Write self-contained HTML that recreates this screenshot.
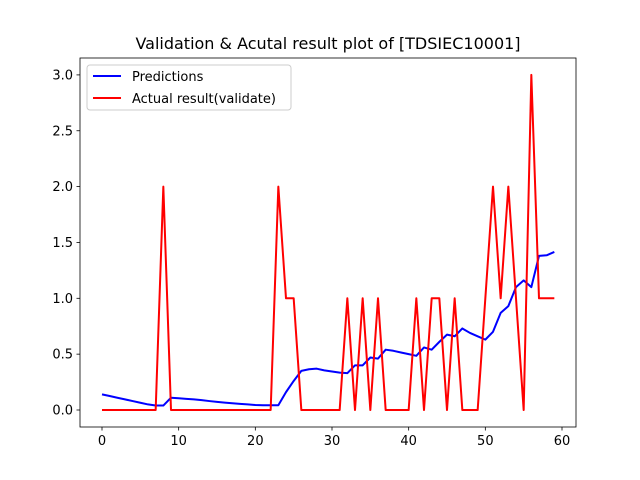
<!DOCTYPE html>
<html><head><meta charset="utf-8"><style>body{margin:0;background:#fff}svg{display:block;font-family:"DejaVu Sans","Liberation Sans",sans-serif}</style></head>
<body>
<svg id="c" width="640" height="480"></svg>
<script>
const xTicks=[0,10,20,30,40,50,60];
const yTicks=[0,0.5,1.0,1.5,2.0,2.5,3.0];
const yTickLabels=["0.0","0.5","1.0","1.5","2.0","2.5","3.0"];
const predictions=[0.14,0.125,0.11,0.095,0.08,0.065,0.05,0.04,0.04,0.11,0.105,0.1,0.095,0.088,0.08,0.073,0.066,0.06,0.055,0.05,0.045,0.043,0.043,0.043,0.16,0.26,0.35,0.365,0.37,0.355,0.345,0.335,0.33,0.4,0.4,0.47,0.46,0.54,0.53,0.515,0.5,0.485,0.56,0.54,0.61,0.675,0.66,0.73,0.69,0.66,0.63,0.7,0.87,0.93,1.1,1.16,1.1,1.38,1.385,1.415];
const actual=[0,0,0,0,0,0,0,0,2,0,0,0,0,0,0,0,0,0,0,0,0,0,0,2,1,1,0,0,0,0,0,0,1,0,1,0,1,0,0,0,0,1,0,1,1,0,1,0,0,0,1,2,1,2,1,0,3,1,1,1];
const NS="http://www.w3.org/2000/svg";
const svg=document.getElementById('c');
const X=v=>102+v*(460/60);
const Y=v=>410-v*111.7;
function mk(t,a,p){const e=document.createElementNS(NS,t);for(const k in a)e.setAttribute(k,a[k]);(p||svg).appendChild(e);return e;}
const t=mk('text',{x:328,y:49,'text-anchor':'middle','font-size':16});t.textContent="Validation & Acutal result plot of [TDSIEC10001]";


xTicks.forEach(v=>{
 const l=mk('line',{x1:X(v),x2:X(v),y1:427,y2:430.5,stroke:'#000','stroke-width':0.8});
 
 
 const s=mk('text',{x:X(v),y:445,'text-anchor':'middle','font-size':13});s.textContent=v;
 
 
});
yTicks.forEach((v,i)=>{
 const l=mk('line',{x1:76.5,x2:80,y1:Y(v),y2:Y(v),stroke:'#000','stroke-width':0.8});
 
 
 const s=mk('text',{x:73,y:Y(v)+4.5,'text-anchor':'end','font-size':13});s.textContent=yTickLabels[i];
 
 
});
const p1=mk('polyline',{points:predictions.map((v,i)=>X(i)+','+Y(v)).join(' '),fill:'none',stroke:'#0000ff','stroke-width':2,'stroke-linejoin':'round'});


const p2=mk('polyline',{points:actual.map((v,i)=>X(i)+','+Y(v)).join(' '),fill:'none',stroke:'#ff0000','stroke-width':2,'stroke-linejoin':'round'});


const fr=mk('rect',{x:80,y:58,width:496,height:369,fill:'none',stroke:'#000','stroke-width':0.8});


const lg=mk('g',{});


mk('rect',{x:87,y:65,width:204,height:45,rx:3,fill:'#fff','fill-opacity':0.8,stroke:'#ccc','stroke-width':1},lg);
mk('line',{x1:93,x2:121,y1:76,y2:76,stroke:'#0000ff','stroke-width':2},lg);
const a=mk('text',{x:132,y:81,'font-size':13},lg);a.textContent="Predictions";


mk('line',{x1:93,x2:121,y1:98,y2:98,stroke:'#ff0000','stroke-width':2},lg);
const b=mk('text',{x:132,y:103,'font-size':13},lg);b.textContent="Actual result(validate)";


</script>
</body></html>
